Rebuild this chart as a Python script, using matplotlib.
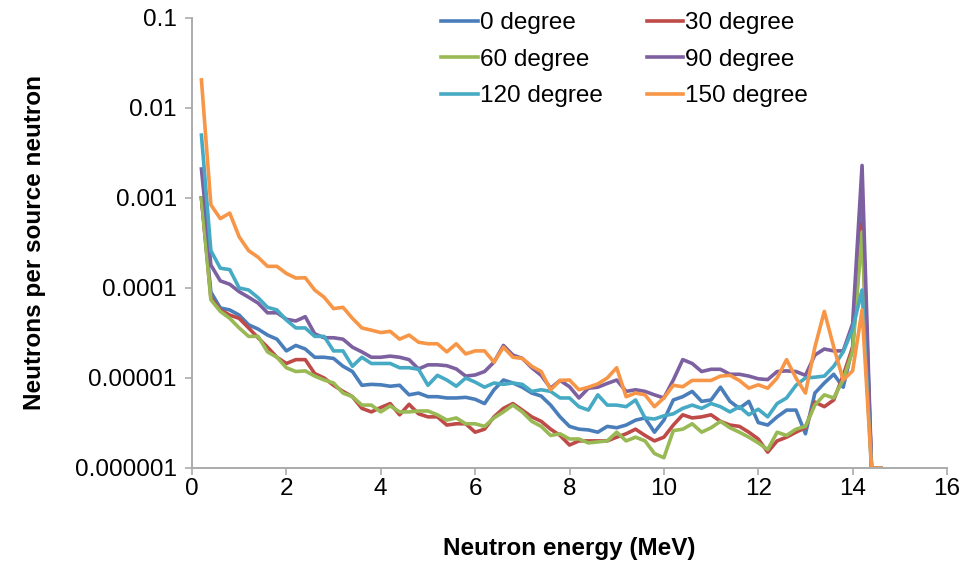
import matplotlib
matplotlib.use("Agg")
import matplotlib.pyplot as plt
from matplotlib.ticker import FixedLocator, NullLocator

# Energy bins (MeV)
energy = [round(0.2 * i, 1) for i in range(1, 74)]

deg0 = [1.0e-3, 9.0e-5, 6.0e-5, 5.7e-5, 5.0e-5, 3.9e-5, 3.5e-5, 3.0e-5, 2.7e-5, 2.0e-5,
        2.3e-5, 2.1e-5, 1.7e-5, 1.7e-5, 1.65e-5, 1.35e-5, 1.18e-5, 8.3e-6, 8.5e-6, 8.4e-6,
        8.1e-6, 8.3e-6, 6.5e-6, 6.8e-6, 6.2e-6, 6.2e-6, 6.0e-6, 6.0e-6, 6.1e-6, 5.8e-6,
        5.2e-6, 7.4e-6, 9.5e-6, 8.8e-6, 7.9e-6, 6.8e-6, 6.3e-6, 5.0e-6, 3.7e-6, 2.9e-6,
        2.7e-6, 2.65e-6, 2.5e-6, 2.9e-6, 2.8e-6, 3.0e-6, 3.4e-6, 3.6e-6, 2.5e-6, 3.4e-6,
        5.7e-6, 6.2e-6, 7.1e-6, 5.5e-6, 5.7e-6, 7.9e-6, 5.5e-6, 4.6e-6, 5.5e-6, 3.2e-6,
        3.0e-6, 3.7e-6, 4.4e-6, 4.4e-6, 2.4e-6, 6.8e-6, 8.8e-6, 1.1e-5, 7.9e-6, 2.2e-5,
        1.0e-3, 1e-6, 1e-6]

deg30 = [1.0e-3, 7.8e-5, 5.7e-5, 5.0e-5, 4.6e-5, 3.6e-5, 2.8e-5, 2.2e-5, 1.7e-5, 1.45e-5,
         1.6e-5, 1.6e-5, 1.12e-5, 1.0e-5, 8.3e-6, 7.1e-6, 6.2e-6, 4.6e-6, 4.2e-6, 4.7e-6,
         5.2e-6, 3.9e-6, 5.1e-6, 4.0e-6, 3.7e-6, 3.7e-6, 3.0e-6, 3.1e-6, 3.1e-6, 2.5e-6,
         2.7e-6, 3.7e-6, 4.6e-6, 5.2e-6, 4.4e-6, 3.7e-6, 3.3e-6, 2.7e-6, 2.3e-6, 1.8e-6,
         2.0e-6, 2.0e-6, 2.0e-6, 2.0e-6, 2.2e-6, 2.4e-6, 2.7e-6, 2.3e-6, 2.0e-6, 2.2e-6,
         3.0e-6, 3.9e-6, 3.6e-6, 3.7e-6, 3.9e-6, 3.3e-6, 3.0e-6, 2.9e-6, 2.5e-6, 2.1e-6,
         1.5e-6, 2.0e-6, 2.2e-6, 2.5e-6, 2.8e-6, 5.4e-6, 4.8e-6, 5.7e-6, 1.07e-5, 2.2e-5,
         5.2e-4, 1e-6, 1e-6]

deg60 = [1.0e-3, 7.4e-5, 5.5e-5, 4.6e-5, 3.6e-5, 2.9e-5, 2.9e-5, 1.95e-5, 1.7e-5, 1.3e-5,
         1.18e-5, 1.2e-5, 1.05e-5, 9.5e-6, 8.8e-6, 6.8e-6, 6.2e-6, 5.0e-6, 5.0e-6, 4.2e-6,
         4.9e-6, 4.2e-6, 4.2e-6, 4.3e-6, 4.3e-6, 3.9e-6, 3.4e-6, 3.6e-6, 3.1e-6, 3.1e-6,
         2.9e-6, 3.6e-6, 4.2e-6, 5.0e-6, 4.2e-6, 3.3e-6, 2.9e-6, 2.3e-6, 2.4e-6, 2.1e-6,
         2.1e-6, 1.9e-6, 1.95e-6, 2.0e-6, 2.5e-6, 2.0e-6, 2.2e-6, 2.0e-6, 1.45e-6, 1.3e-6,
         2.6e-6, 2.7e-6, 3.1e-6, 2.5e-6, 2.8e-6, 3.3e-6, 2.8e-6, 2.5e-6, 2.2e-6, 1.9e-6,
         1.6e-6, 2.5e-6, 2.3e-6, 2.7e-6, 2.9e-6, 5.0e-6, 6.5e-6, 6.0e-6, 9.6e-6, 2.0e-5,
         4.2e-4, 1e-6, 1e-6]

deg90 = [2.1e-3, 1.8e-4, 1.2e-4, 1.1e-4, 9.1e-5, 7.9e-5, 6.8e-5, 5.3e-5, 5.3e-5, 4.5e-5,
         4.3e-5, 4.8e-5, 3.1e-5, 2.8e-5, 2.8e-5, 2.7e-5, 2.2e-5, 1.95e-5, 1.7e-5, 1.7e-5,
         1.75e-5, 1.7e-5, 1.6e-5, 1.26e-5, 1.4e-5, 1.4e-5, 1.37e-5, 1.26e-5, 1.05e-5, 1.08e-5,
         1.18e-5, 1.5e-5, 2.3e-5, 1.8e-5, 1.65e-5, 1.3e-5, 1.07e-5, 7.7e-6, 9.4e-6, 8.0e-6,
         6.0e-6, 7.7e-6, 7.9e-6, 8.7e-6, 9.5e-6, 7.1e-6, 7.4e-6, 7.1e-6, 6.5e-6, 6.0e-6,
         9.5e-6, 1.6e-5, 1.45e-5, 1.18e-5, 1.25e-5, 1.25e-5, 1.1e-5, 1.1e-5, 1.05e-5, 9.8e-6,
         9.6e-6, 1.18e-5, 1.2e-5, 1.18e-5, 1.07e-5, 1.8e-5, 2.1e-5, 2.0e-5, 2.0e-5, 4.0e-5,
         2.3e-3, 1e-6, 1e-6]

deg120 = [5.0e-3, 2.6e-4, 1.66e-4, 1.6e-4, 1.0e-4, 9.5e-5, 7.8e-5, 6.1e-5, 5.7e-5, 4.4e-5,
          3.6e-5, 3.6e-5, 2.9e-5, 2.9e-5, 2.0e-5, 2.0e-5, 1.35e-5, 1.7e-5, 1.45e-5, 1.45e-5,
          1.45e-5, 1.3e-5, 1.3e-5, 1.25e-5, 8.3e-6, 1.07e-5, 9.5e-6, 8.1e-6, 1.0e-5, 9.0e-6,
          7.9e-6, 8.8e-6, 8.5e-6, 8.8e-6, 8.5e-6, 7.1e-6, 7.4e-6, 7.1e-6, 6.0e-6, 6.0e-6,
          4.8e-6, 4.4e-6, 6.5e-6, 5.0e-6, 5.0e-6, 4.8e-6, 5.7e-6, 3.6e-6, 3.5e-6, 3.8e-6,
          4.0e-6, 4.6e-6, 5.0e-6, 4.6e-6, 5.2e-6, 4.8e-6, 4.2e-6, 4.8e-6, 3.9e-6, 4.5e-6,
          3.7e-6, 5.2e-6, 6.0e-6, 8.3e-6, 1.0e-5, 1.02e-5, 1.05e-5, 1.35e-5, 1.95e-5, 3.5e-5,
          9.5e-5, 1e-6, 1e-6]

deg150 = [2.05e-2, 8.4e-4, 5.9e-4, 6.8e-4, 3.7e-4, 2.6e-4, 2.2e-4, 1.74e-4, 1.74e-4, 1.45e-4,
          1.29e-4, 1.3e-4, 9.5e-5, 7.9e-5, 5.9e-5, 6.1e-5, 4.6e-5, 3.6e-5, 3.4e-5, 3.2e-5,
          3.3e-5, 2.7e-5, 3.0e-5, 2.5e-5, 2.4e-5, 2.4e-5, 1.95e-5, 2.4e-5, 1.85e-5, 2.0e-5,
          2.0e-5, 1.5e-5, 2.2e-5, 1.7e-5, 1.65e-5, 1.35e-5, 1.18e-5, 7.4e-6, 9.4e-6, 9.5e-6,
          7.4e-6, 7.9e-6, 8.6e-6, 1.0e-5, 1.3e-5, 6.2e-6, 6.8e-6, 6.5e-6, 4.8e-6, 6.0e-6,
          8.3e-6, 8.0e-6, 9.4e-6, 9.4e-6, 9.4e-6, 1.05e-5, 1.07e-5, 9.4e-6, 7.7e-6, 8.4e-6,
          7.7e-6, 1.0e-5, 1.6e-5, 1.0e-5, 6.8e-6, 2.2e-5, 5.5e-5, 2.2e-5, 9.5e-6, 1.2e-5,
          5.7e-5, 1e-6, 1e-6]

series_labels = ["0 degree", "30 degree", "60 degree", "90 degree", "120 degree", "150 degree"]
series_values = [deg0, deg30, deg60, deg90, deg120, deg150]
series_colors = ["#4A7EBB", "#BE4B48", "#98B954", "#7D60A0", "#46AAC5", "#F79646"]

y_ticks = [1e-6, 1e-5, 1e-4, 1e-3, 1e-2, 1e-1]
y_tick_labels = ["0.000001", "0.00001", "0.0001", "0.001", "0.01", "0.1"]
x_ticks = [0, 2, 4, 6, 8, 10, 12, 14, 16]

plt.rcParams["font.family"] = ["Liberation Sans", "DejaVu Sans"]
FS = 17.5

fig = plt.figure(figsize=(9.66, 5.67), dpi=100)
ax = fig.add_axes([192 / 966, 1 - 468 / 567, 755 / 966, 450 / 567])

lines = []
for vals, lab, col in zip(series_values, series_labels, series_colors):
    ln, = ax.plot(energy, vals, color=col, lw=2.6, label=lab, solid_joinstyle="round")
    lines.append(ln)

ax.set_yscale("log")
ax.set_ylim(1e-6, 1e-1)
ax.set_xlim(0, 16)
ax.yaxis.set_major_locator(FixedLocator(y_ticks))
ax.yaxis.set_minor_locator(NullLocator())
ax.set_yticks(y_ticks)
ax.set_yticklabels(y_tick_labels)
ax.set_xticks(x_ticks)
ax.set_xticklabels([str(t) for t in x_ticks])

grey = "#ABABAB"
for side in ("top", "right"):
    ax.spines[side].set_visible(False)
for side in ("left", "bottom"):
    ax.spines[side].set_color(grey)
    ax.spines[side].set_linewidth(1.4)
ax.tick_params(axis="both", which="major", direction="out", length=5, width=1.2,
               color=grey, labelsize=FS, labelcolor="black")
ax.tick_params(axis="x", pad=2)
ax.tick_params(axis="y", pad=6)

ax.set_xlabel("Neutron energy (MeV)", fontsize=FS, fontweight="bold", labelpad=27)
ax.set_ylabel("Neutrons per source neutron", fontsize=FS, fontweight="bold", labelpad=21)

# legend filled row by row (two columns)
order = [0, 2, 4, 1, 3, 5]
leg = ax.legend([lines[i] for i in order], [series_labels[i] for i in order],
                loc="upper left", bbox_to_anchor=(441 / 966, 1 - 12 / 567),
                bbox_transform=fig.transFigure, ncol=2, frameon=False, fontsize=FS,
                handlelength=1.52, handletextpad=0.08, columnspacing=1.8,
                labelspacing=0.6, borderpad=0, borderaxespad=0)

fig.savefig("out.png", dpi=100)
